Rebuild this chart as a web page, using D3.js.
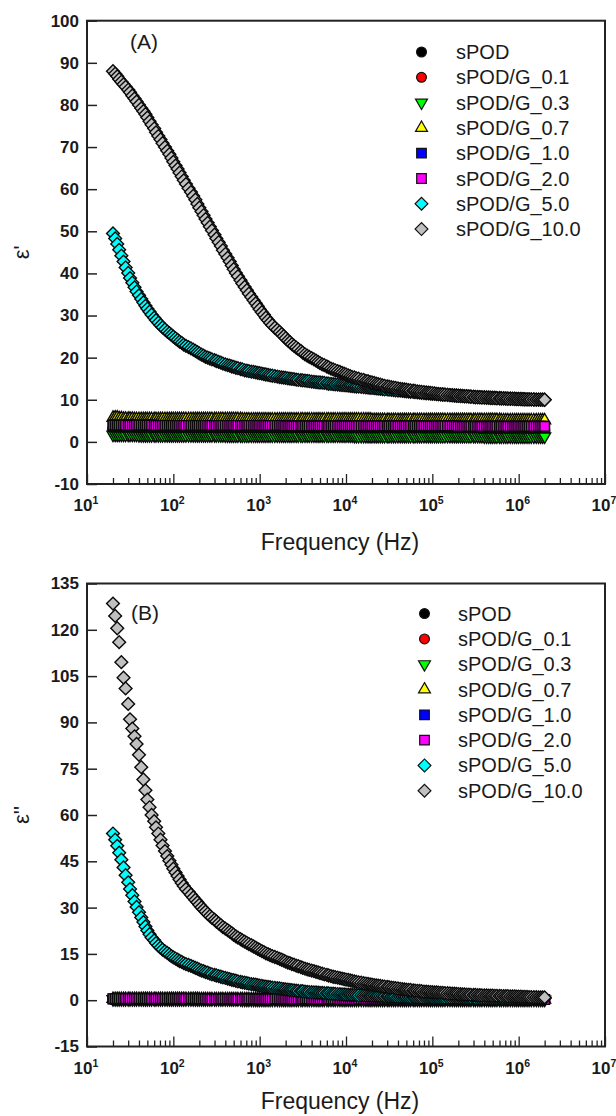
<!DOCTYPE html>
<html><head><meta charset="utf-8">
<script src="https://cdn.jsdelivr.net/npm/d3@7"></script>
<style>
body{margin:0;background:#fff}
svg{display:block}
text{font-family:"Liberation Sans",Arial,sans-serif;fill:#1a1a1a}
</style>
</head><body>
<svg id="chart" width="616" height="1116"></svg>
<script>
// ---------------- DATA ----------------
const frequency = [20,21.2,22.4,23.6,25,26.5,28,30,31.5,33.5, 35.5,37.5,40,42.5,45,47.5,50,53,56,60, 63,67,71,75,80,85,90,95,
100,106,112,118,125,132,140,150,160,170, 180,190,200,212,224,236,250,265,280,300, 315,335,355,375,400,425,450,475,500,530, 560,600,630,670,710,750,800,850,900,950,
1e3,1.06e3,1.12e3,1.18e3,1.25e3,1.32e3,1.4e3,1.5e3,1.6e3,1.7e3, 1.8e3,1.9e3,2e3,2.12e3,2.24e3,2.36e3,2.5e3,2.65e3,2.8e3,3e3, 3.15e3,3.35e3,3.55e3,3.75e3,4e3,4.25e3,4.5e3,4.75e3,5e3,5.3e3, 5.6e3,6e3,6.3e3,6.7e3,7.1e3,7.5e3,8e3,8.5e3,9e3,9.5e3,
1e4,1.06e4,1.12e4,1.18e4,1.25e4,1.32e4,1.4e4,1.5e4,1.6e4,1.7e4, 1.8e4,1.9e4,2e4,2.12e4,2.24e4,2.36e4,2.5e4,2.65e4,2.8e4,3e4, 3.15e4,3.35e4,3.55e4,3.75e4,4e4,4.25e4,4.5e4,4.75e4,5e4,5.3e4, 5.6e4,6e4,6.3e4,6.7e4,7.1e4,7.5e4,8e4,8.5e4,9e4,9.5e4,
1e5,1.06e5,1.12e5,1.18e5,1.25e5,1.32e5,1.4e5,1.5e5,1.6e5,1.7e5, 1.8e5,1.9e5,2e5,2.12e5,2.24e5,2.36e5,2.5e5,2.65e5,2.8e5,3e5, 3.15e5,3.35e5,3.55e5,3.75e5,4e5,4.25e5,4.5e5,4.75e5,5e5,5.3e5, 5.6e5,6e5,6.3e5,6.7e5,7.1e5,7.5e5,8e5,8.5e5,9e5,9.5e5,
1e6,1.06e6,1.12e6,1.18e6,1.25e6,1.32e6,1.4e6,1.5e6,1.6e6,1.7e6, 1.8e6,1.9e6,2e6];

const seriesNames = ["sPOD","sPOD/G_0.1","sPOD/G_0.3","sPOD/G_0.7","sPOD/G_1.0","sPOD/G_2.0","sPOD/G_5.0","sPOD/G_10.0"];

// (A) real permittivity  ε'
const epsP_sPOD = [
2.9,2.9,2.9,2.9,2.9,2.9,2.9,2.9,2.9,2.9, 2.9,2.9,2.9,2.9,2.9,2.9,2.9,2.9,2.9,2.9,
2.8,2.8,2.8,2.8,2.8,2.8,2.8,2.8,2.8,2.8, 2.8,2.8,2.8,2.8,2.8,2.8,2.8,2.8,2.8,2.8,
2.8,2.8,2.8,2.8,2.8,2.8,2.8,2.8,2.8,2.8, 2.8,2.8,2.8,2.8,2.8,2.8,2.8,2.8,2.8,2.8,
2.7,2.7,2.7,2.7,2.7,2.7,2.7,2.7,2.7,2.7, 2.7,2.7,2.7,2.7,2.7,2.7,2.7,2.7,2.7,2.7,
2.7,2.7,2.7,2.7,2.7,2.7,2.7,2.7,2.7,2.7, 2.7,2.7,2.7,2.7,2.7,2.7,2.7,2.7,2.7,2.7,
2.7,2.7,2.7,2.7,2.7,2.7,2.7,2.7,2.7,2.7, 2.7,2.7,2.7,2.7,2.7,2.7,2.7,2.7,2.7,2.7,
2.6,2.6,2.6,2.6,2.6,2.6,2.6,2.6,2.6,2.6, 2.6,2.6,2.6,2.6,2.6,2.6,2.6,2.6,2.6,2.6,
2.6,2.6,2.6,2.6,2.6,2.6,2.6,2.6,2.6,2.6, 2.6,2.6,2.6,2.6,2.6,2.6,2.6,2.6,2.6,2.6,
2.6,2.6,2.6,2.6,2.6,2.6,2.6,2.6,2.6,2.6, 2.6,2.6,2.6,2.6,2.6,2.6,2.6,2.6,2.6,2.6,
2.5,2.5,2.5,2.5,2.5,2.5,2.5,2.5,2.5,2.5, 2.5,2.5,2.5,2.5,2.5,2.5,2.5,2.5,2.5,2.5,
2.5];
const epsP_G01 = [
3.2,3.2,3.2,3.2,3.2,3.2,3.2,3.2,3.2,3.2, 3.2,3.2,3.2,3.2,3.2,3.2,3.2,3.2,3.2,3.2,
3.1,3.1,3.1,3.1,3.1,3.1,3.1,3.1,3.1,3.1, 3.1,3.1,3.1,3.1,3.1,3.1,3.1,3.1,3.1,3.1,
3.1,3.1,3.1,3.1,3.1,3.1,3.1,3.1,3.1,3.1, 3.1,3.1,3.1,3.1,3.1,3.1,3.1,3.1,3.1,3.1,
3.1,3.1,3.1,3.1,3.1,3.1,3.1,3.1,3.1,3.1, 3.1,3.1,3.1,3.1,3.1,3.1,3.1,3.1,3.1,3.1,
3.0,3.0,3.0,3.0,3.0,3.0,3.0,3.0,3.0,3.0, 3.0,3.0,3.0,3.0,3.0,3.0,3.0,3.0,3.0,3.0,
3.0,3.0,3.0,3.0,3.0,3.0,3.0,3.0,3.0,3.0, 3.0,3.0,3.0,3.0,3.0,3.0,3.0,3.0,3.0,3.0,
3.0,3.0,3.0,3.0,3.0,3.0,3.0,3.0,3.0,3.0, 3.0,3.0,3.0,3.0,3.0,3.0,3.0,3.0,3.0,3.0,
2.9,2.9,2.9,2.9,2.9,2.9,2.9,2.9,2.9,2.9, 2.9,2.9,2.9,2.9,2.9,2.9,2.9,2.9,2.9,2.9,
2.9,2.9,2.9,2.9,2.9,2.9,2.9,2.9,2.9,2.9, 2.9,2.9,2.9,2.9,2.9,2.9,2.9,2.9,2.9,2.9,
2.8,2.8,2.8,2.8,2.8,2.8,2.8,2.8,2.8,2.8, 2.8,2.8,2.8,2.8,2.8,2.8,2.8,2.8,2.8,2.8,
2.8];
const epsP_G03 = [
1.7,1.7,1.7,1.7,1.7,1.7,1.7,1.7,1.7,1.7, 1.7,1.7,1.6,1.6,1.6,1.6,1.6,1.6,1.6,1.6,
1.6,1.6,1.6,1.6,1.6,1.6,1.6,1.6,1.6,1.6, 1.6,1.6,1.6,1.6,1.6,1.6,1.6,1.6,1.6,1.6,
1.6,1.6,1.6,1.6,1.6,1.6,1.6,1.6,1.6,1.6, 1.6,1.6,1.5,1.5,1.5,1.5,1.5,1.5,1.5,1.5,
1.5,1.5,1.5,1.5,1.5,1.5,1.5,1.5,1.5,1.5, 1.5,1.5,1.5,1.5,1.5,1.5,1.5,1.5,1.5,1.5,
1.5,1.5,1.5,1.5,1.5,1.5,1.5,1.5,1.5,1.5, 1.5,1.5,1.5,1.5,1.5,1.5,1.5,1.5,1.5,1.5,
1.5,1.5,1.5,1.5,1.5,1.5,1.5,1.5,1.5,1.5, 1.5,1.5,1.4,1.4,1.4,1.4,1.4,1.4,1.4,1.4,
1.4,1.4,1.4,1.4,1.4,1.4,1.4,1.4,1.4,1.4, 1.4,1.4,1.4,1.4,1.4,1.4,1.4,1.4,1.4,1.4,
1.4,1.4,1.4,1.4,1.4,1.4,1.4,1.4,1.4,1.4, 1.4,1.4,1.4,1.4,1.4,1.4,1.4,1.4,1.4,1.4,
1.4,1.4,1.4,1.4,1.4,1.4,1.4,1.4,1.4,1.4, 1.4,1.4,1.3,1.3,1.3,1.3,1.3,1.3,1.3,1.3,
1.3,1.3,1.3,1.3,1.3,1.3,1.3,1.3,1.3,1.3, 1.3,1.3,1.3,1.3,1.3,1.3,1.3,1.3,1.3,1.3,
1.3];
const epsP_G07 = [
5.7,5.8,5.8,5.6,5.6,5.5,5.5,5.5,5.5,5.5, 5.4,5.4,5.4,5.4,5.4,5.4,5.4,5.4,5.4,5.4,
5.4,5.4,5.4,5.4,5.4,5.4,5.4,5.4,5.4,5.4, 5.4,5.4,5.4,5.4,5.4,5.4,5.4,5.4,5.4,5.4,
5.4,5.4,5.4,5.4,5.4,5.4,5.4,5.4,5.4,5.4, 5.4,5.4,5.4,5.4,5.4,5.4,5.4,5.4,5.4,5.4,
5.3,5.3,5.3,5.3,5.3,5.3,5.3,5.3,5.3,5.3, 5.3,5.3,5.3,5.3,5.3,5.3,5.3,5.3,5.3,5.3,
5.3,5.3,5.3,5.3,5.3,5.3,5.3,5.3,5.3,5.3, 5.3,5.3,5.3,5.3,5.3,5.3,5.3,5.3,5.3,5.3,
5.3,5.3,5.3,5.3,5.3,5.3,5.3,5.3,5.3,5.3, 5.3,5.3,5.3,5.3,5.3,5.3,5.3,5.3,5.3,5.3,
5.2,5.2,5.2,5.2,5.2,5.2,5.2,5.2,5.2,5.2, 5.2,5.2,5.2,5.2,5.2,5.2,5.2,5.2,5.2,5.2,
5.2,5.2,5.2,5.2,5.2,5.2,5.2,5.2,5.2,5.2, 5.2,5.2,5.2,5.2,5.2,5.2,5.2,5.2,5.2,5.2,
5.2,5.2,5.2,5.2,5.2,5.2,5.2,5.2,5.2,5.2, 5.2,5.2,5.2,5.2,5.2,5.2,5.2,5.2,5.2,5.2,
5.1,5.1,5.1,5.1,5.1,5.1,5.1,5.1,5.1,5.1, 5.1,5.1,5.1,5.1,5.1,5.1,5.1,5.1,5.1,5.1,
5.1];
const epsP_G10 = [
3.6,3.6,3.6,3.6,3.6,3.6,3.6,3.6,3.6,3.6, 3.6,3.6,3.6,3.6,3.6,3.6,3.6,3.6,3.6,3.6,
3.6,3.6,3.6,3.6,3.6,3.6,3.6,3.6,3.6,3.6, 3.6,3.6,3.6,3.6,3.6,3.6,3.6,3.6,3.6,3.6,
3.5,3.5,3.5,3.5,3.5,3.5,3.5,3.5,3.5,3.5, 3.5,3.5,3.5,3.5,3.5,3.5,3.5,3.5,3.5,3.5,
3.5,3.5,3.5,3.5,3.5,3.5,3.5,3.5,3.5,3.5, 3.5,3.5,3.5,3.5,3.5,3.5,3.5,3.5,3.5,3.5,
3.5,3.5,3.5,3.5,3.5,3.5,3.5,3.5,3.5,3.5, 3.5,3.5,3.5,3.5,3.5,3.5,3.5,3.5,3.5,3.5,
3.5,3.5,3.5,3.5,3.5,3.5,3.5,3.5,3.5,3.5, 3.5,3.5,3.5,3.5,3.5,3.5,3.5,3.5,3.5,3.5,
3.4,3.4,3.4,3.4,3.4,3.4,3.4,3.4,3.4,3.4, 3.4,3.4,3.4,3.4,3.4,3.4,3.4,3.4,3.4,3.4,
3.4,3.4,3.4,3.4,3.4,3.4,3.4,3.4,3.4,3.4, 3.4,3.4,3.4,3.4,3.4,3.4,3.4,3.4,3.4,3.4,
3.4,3.4,3.4,3.4,3.4,3.4,3.4,3.4,3.4,3.4, 3.4,3.4,3.4,3.4,3.4,3.4,3.4,3.4,3.4,3.4,
3.4,3.4,3.4,3.4,3.4,3.4,3.4,3.4,3.4,3.4, 3.4,3.4,3.4,3.4,3.4,3.4,3.4,3.4,3.4,3.4,
3.4];
const epsP_G20 = [
4.0,4.0,4.0,4.0,4.0,4.0,4.0,4.0,4.0,4.0, 4.0,4.0,4.0,4.0,4.0,4.0,4.0,4.0,4.0,4.0,
3.9,3.9,3.9,3.9,3.9,3.9,3.9,3.9,3.9,3.9, 3.9,3.9,3.9,3.9,3.9,3.9,3.9,3.9,3.9,3.9,
3.9,3.9,3.9,3.9,3.9,3.9,3.9,3.9,3.9,3.9, 3.9,3.9,3.9,3.9,3.9,3.9,3.9,3.9,3.9,3.9,
3.9,3.9,3.9,3.9,3.9,3.9,3.9,3.9,3.9,3.9, 3.9,3.9,3.9,3.9,3.9,3.9,3.9,3.9,3.9,3.9,
3.8,3.8,3.8,3.8,3.8,3.8,3.8,3.8,3.8,3.8, 3.8,3.8,3.8,3.8,3.8,3.8,3.8,3.8,3.8,3.8,
3.8,3.8,3.8,3.8,3.8,3.8,3.8,3.8,3.8,3.8, 3.8,3.8,3.8,3.8,3.8,3.8,3.8,3.8,3.8,3.8,
3.8,3.8,3.8,3.8,3.8,3.8,3.8,3.8,3.8,3.8, 3.8,3.8,3.8,3.8,3.8,3.8,3.8,3.8,3.8,3.8,
3.8,3.8,3.8,3.8,3.8,3.8,3.8,3.8,3.8,3.8, 3.8,3.8,3.8,3.8,3.8,3.8,3.8,3.8,3.8,3.8,
3.7,3.7,3.7,3.7,3.7,3.7,3.7,3.7,3.7,3.7, 3.7,3.7,3.7,3.7,3.7,3.7,3.7,3.7,3.7,3.7,
3.7,3.7,3.7,3.7,3.7,3.7,3.7,3.7,3.7,3.7, 3.7,3.7,3.7,3.7,3.7,3.7,3.7,3.7,3.7,3.7,
3.7];
const epsP_G50 = [
49.5,48.3,47.0,45.6,44.2,42.8,41.4,40.1,38.9,37.8, 36.7,35.7,34.8,33.9,33.1,32.3,31.6,30.9,30.2,29.5,
28.9,28.3,27.7,27.2,26.7,26.2,25.8,25.4,25.0,24.6, 24.2,23.8,23.5,23.1,22.8,22.5,22.2,21.9,21.6,21.3,
21.0,20.7,20.5,20.2,20.0,19.8,19.6,19.4,19.2,19.0, 18.8,18.6,18.4,18.2,18.1,17.9,17.8,17.6,17.5,17.3,
17.2,17.0,16.9,16.8,16.7,16.6,16.5,16.4,16.3,16.2, 16.1,16.0,15.9,15.8,15.7,15.6,15.5,15.4,15.3,15.25,
15.2,15.1,15.0,14.95,14.9,14.8,14.7,14.65,14.6,14.55, 14.5,14.4,14.3,14.25,14.2,14.15,14.1,14.05,14.0,13.9,
13.8,13.75,13.7,13.65,13.6,13.55,13.5,13.45,13.4,13.35, 13.3,13.25,13.2,13.15,13.1,13.05,13.0,12.95,12.9,12.85,
12.8,12.75,12.7,12.65,12.6,12.55,12.5,12.45,12.4,12.35, 12.3,12.25,12.2,12.15,12.1,12.05,12.0,11.95,11.9,11.85,
11.8,11.75,11.7,11.65,11.6,11.55,11.5,11.45,11.4,11.38, 11.35,11.32,11.3,11.25,11.2,11.15,11.1,11.08,11.05,11.02,
11.0,10.95,10.9,10.88,10.85,10.82,10.8,10.75,10.7,10.68, 10.65,10.62,10.6,10.58,10.55,10.52,10.5,10.48,10.45,10.42,
10.4,10.38,10.35,10.32,10.3,10.28,10.25,10.22,10.2,10.18, 10.15,10.12,10.1,10.09,10.08,10.06,10.05,10.04,10.02,10.01,
10.0];
const epsP_G100 = [
88.0,87.4,86.8,86.1,85.5,84.9,84.3,83.6,83.0,82.2, 81.5,80.8,80.0,79.2,78.5,77.8,77.0,76.1,75.3,74.4,
73.5,72.6,71.8,70.9,70.0,69.1,68.3,67.4,66.5,65.6, 64.8,63.9,63.0,62.1,61.2,60.2,59.3,58.4,57.5,56.5,
55.6,54.7,53.8,52.9,52.0,51.1,50.2,49.2,48.3,47.4, 46.5,45.5,44.6,43.7,42.8,41.9,41.0,40.1,39.3,38.4,
37.6,36.8,36.0,35.2,34.4,33.6,32.9,32.2,31.5,30.8, 30.2,29.5,28.9,28.3,27.7,27.1,26.6,26.1,25.6,25.1,
24.6,24.1,23.7,23.2,22.8,22.4,22.0,21.6,21.2,20.8, 20.5,20.2,19.9,19.6,19.3,19.0,18.7,18.4,18.2,17.9,
17.7,17.4,17.2,17.0,16.8,16.6,16.4,16.2,16.0,15.8, 15.6,15.4,15.3,15.1,15.0,14.8,14.7,14.5,14.4,14.2,
14.1,14.0,13.8,13.7,13.6,13.4,13.3,13.2,13.1,13.0, 12.9,12.8,12.7,12.6,12.5,12.45,12.4,12.3,12.2,12.15,
12.1,12.0,11.9,11.85,11.8,11.75,11.7,11.65,11.6,11.5, 11.4,11.35,11.3,11.25,11.2,11.15,11.1,11.05,11.0,10.95,
10.9,10.88,10.85,10.82,10.8,10.75,10.7,10.65,10.6,10.58, 10.55,10.52,10.5,10.48,10.45,10.42,10.4,10.38,10.35,10.32,
10.3,10.28,10.25,10.22,10.2,10.19,10.18,10.16,10.15,10.14, 10.12,10.11,10.1,10.09,10.08,10.06,10.05,10.04,10.02,10.01,
10.0];

// (B) imaginary permittivity  ε''
const epsPP_sPOD = [
0.3,0.3,0.3,0.3,0.3,0.3,0.3,0.3,0.3,0.3, 0.3,0.3,0.3,0.3,0.3,0.3,0.3,0.3,0.3,0.3,
0.3,0.3,0.3,0.3,0.3,0.3,0.3,0.3,0.3,0.3, 0.3,0.3,0.3,0.3,0.3,0.3,0.3,0.3,0.3,0.3,
0.2,0.2,0.2,0.2,0.2,0.2,0.2,0.2,0.2,0.2, 0.2,0.2,0.2,0.2,0.2,0.2,0.2,0.2,0.2,0.2,
0.2,0.2,0.2,0.2,0.2,0.2,0.2,0.2,0.2,0.2, 0.2,0.2,0.2,0.2,0.2,0.2,0.2,0.2,0.2,0.2,
0.2,0.2,0.2,0.2,0.2,0.2,0.2,0.2,0.2,0.2, 0.2,0.2,0.2,0.2,0.2,0.2,0.2,0.2,0.2,0.2,
0.2,0.2,0.2,0.2,0.2,0.2,0.2,0.2,0.2,0.2, 0.2,0.2,0.2,0.2,0.2,0.2,0.2,0.2,0.2,0.2,
0.1,0.1,0.1,0.1,0.1,0.1,0.1,0.1,0.1,0.1, 0.1,0.1,0.1,0.1,0.1,0.1,0.1,0.1,0.1,0.1,
0.1,0.1,0.1,0.1,0.1,0.1,0.1,0.1,0.1,0.1, 0.1,0.1,0.1,0.1,0.1,0.1,0.1,0.1,0.1,0.1,
0.1,0.1,0.1,0.1,0.1,0.1,0.1,0.1,0.1,0.1, 0.1,0.1,0.1,0.1,0.1,0.1,0.1,0.1,0.1,0.1,
0.1,0.1,0.1,0.1,0.1,0.1,0.1,0.1,0.1,0.1, 0.1,0.1,0.1,0.1,0.1,0.1,0.1,0.1,0.1,0.1,
0.1];
const epsPP_G01 = [
0.3,0.3,0.3,0.3,0.3,0.3,0.3,0.3,0.3,0.3, 0.3,0.3,0.3,0.3,0.3,0.3,0.3,0.3,0.3,0.3,
0.3,0.3,0.3,0.3,0.3,0.3,0.3,0.3,0.3,0.3, 0.3,0.3,0.3,0.3,0.3,0.3,0.3,0.3,0.3,0.3,
0.3,0.3,0.3,0.3,0.3,0.3,0.3,0.3,0.3,0.3, 0.3,0.3,0.3,0.3,0.3,0.3,0.3,0.3,0.3,0.3,
0.2,0.2,0.2,0.2,0.2,0.2,0.2,0.2,0.2,0.2, 0.2,0.2,0.2,0.2,0.2,0.2,0.2,0.2,0.2,0.2,
0.2,0.2,0.2,0.2,0.2,0.2,0.2,0.2,0.2,0.2, 0.2,0.2,0.2,0.2,0.2,0.2,0.2,0.2,0.2,0.2,
0.2,0.2,0.2,0.2,0.2,0.2,0.2,0.2,0.2,0.2, 0.2,0.2,0.2,0.2,0.2,0.2,0.2,0.2,0.2,0.2,
0.2,0.2,0.2,0.2,0.2,0.2,0.2,0.2,0.2,0.2, 0.2,0.2,0.2,0.2,0.2,0.2,0.2,0.2,0.2,0.2,
0.15,0.15,0.15,0.15,0.15,0.15,0.15,0.15,0.15,0.15, 0.15,0.15,0.15,0.15,0.15,0.15,0.15,0.15,0.15,0.15,
0.15,0.15,0.15,0.15,0.15,0.15,0.15,0.15,0.15,0.15, 0.15,0.15,0.15,0.15,0.15,0.15,0.15,0.15,0.15,0.15,
0.15,0.15,0.15,0.15,0.15,0.15,0.15,0.15,0.15,0.15, 0.15,0.15,0.15,0.15,0.15,0.15,0.15,0.15,0.15,0.15,
0.15];
const epsPP_G03 = [
0.3,0.3,0.3,0.3,0.3,0.3,0.3,0.3,0.3,0.3, 0.3,0.3,0.3,0.3,0.3,0.3,0.3,0.3,0.3,0.3,
0.3,0.3,0.3,0.3,0.3,0.3,0.3,0.3,0.3,0.3, 0.3,0.3,0.3,0.3,0.3,0.3,0.3,0.3,0.3,0.3,
0.3,0.3,0.3,0.3,0.3,0.3,0.3,0.3,0.3,0.3, 0.3,0.3,0.3,0.3,0.3,0.3,0.3,0.3,0.3,0.3,
0.2,0.2,0.2,0.2,0.2,0.2,0.2,0.2,0.2,0.2, 0.2,0.2,0.2,0.2,0.2,0.2,0.2,0.2,0.2,0.2,
0.2,0.2,0.2,0.2,0.2,0.2,0.2,0.2,0.2,0.2, 0.2,0.2,0.2,0.2,0.2,0.2,0.2,0.2,0.2,0.2,
0.2,0.2,0.2,0.2,0.2,0.2,0.2,0.2,0.2,0.2, 0.2,0.2,0.2,0.2,0.2,0.2,0.2,0.2,0.2,0.2,
0.2,0.2,0.2,0.2,0.2,0.2,0.2,0.2,0.2,0.2, 0.2,0.2,0.2,0.2,0.2,0.2,0.2,0.2,0.2,0.2,
0.2,0.2,0.2,0.2,0.2,0.2,0.2,0.2,0.2,0.2, 0.2,0.2,0.2,0.2,0.2,0.2,0.2,0.2,0.2,0.2,
0.2,0.2,0.2,0.2,0.2,0.2,0.2,0.2,0.2,0.2, 0.2,0.2,0.2,0.2,0.2,0.2,0.2,0.2,0.2,0.2,
0.2,0.2,0.2,0.2,0.2,0.2,0.2,0.2,0.2,0.2, 0.2,0.2,0.2,0.2,0.2,0.2,0.2,0.2,0.2,0.2,
0.2];
const epsPP_G07 = [
0.4,0.4,0.4,0.4,0.4,0.4,0.4,0.4,0.4,0.4, 0.4,0.4,0.4,0.4,0.4,0.4,0.4,0.4,0.4,0.4,
0.4,0.4,0.4,0.4,0.4,0.4,0.4,0.4,0.4,0.4, 0.4,0.4,0.4,0.4,0.4,0.4,0.4,0.4,0.4,0.4,
0.3,0.3,0.3,0.3,0.3,0.3,0.3,0.3,0.3,0.3, 0.3,0.3,0.3,0.3,0.3,0.3,0.3,0.3,0.3,0.3,
0.3,0.3,0.3,0.3,0.3,0.3,0.3,0.3,0.3,0.3, 0.3,0.3,0.3,0.3,0.3,0.3,0.3,0.3,0.3,0.3,
0.3,0.3,0.3,0.3,0.3,0.3,0.3,0.3,0.3,0.3, 0.3,0.3,0.3,0.3,0.3,0.3,0.3,0.3,0.3,0.3,
0.3,0.3,0.3,0.3,0.3,0.3,0.3,0.3,0.3,0.3, 0.3,0.3,0.3,0.3,0.3,0.3,0.3,0.3,0.3,0.3,
0.2,0.2,0.2,0.2,0.2,0.2,0.2,0.2,0.2,0.2, 0.2,0.2,0.2,0.2,0.2,0.2,0.2,0.2,0.2,0.2,
0.2,0.2,0.2,0.2,0.2,0.2,0.2,0.2,0.2,0.2, 0.2,0.2,0.2,0.2,0.2,0.2,0.2,0.2,0.2,0.2,
0.2,0.2,0.2,0.2,0.2,0.2,0.2,0.2,0.2,0.2, 0.2,0.2,0.2,0.2,0.2,0.2,0.2,0.2,0.2,0.2,
0.2,0.2,0.2,0.2,0.2,0.2,0.2,0.2,0.2,0.2, 0.2,0.2,0.2,0.2,0.2,0.2,0.2,0.2,0.2,0.2,
0.2];
const epsPP_G10 = [
0.4,0.4,0.4,0.4,0.4,0.4,0.4,0.4,0.4,0.4, 0.4,0.4,0.4,0.4,0.4,0.4,0.4,0.4,0.4,0.4,
0.4,0.4,0.4,0.4,0.4,0.4,0.4,0.4,0.4,0.4, 0.4,0.4,0.4,0.4,0.4,0.4,0.4,0.4,0.4,0.4,
0.4,0.4,0.4,0.4,0.4,0.4,0.4,0.4,0.4,0.4, 0.4,0.4,0.4,0.4,0.4,0.4,0.4,0.4,0.4,0.4,
0.3,0.3,0.3,0.3,0.3,0.3,0.3,0.3,0.3,0.3, 0.3,0.3,0.3,0.3,0.3,0.3,0.3,0.3,0.3,0.3,
0.3,0.3,0.3,0.3,0.3,0.3,0.3,0.3,0.3,0.3, 0.3,0.3,0.3,0.3,0.3,0.3,0.3,0.3,0.3,0.3,
0.3,0.3,0.3,0.3,0.3,0.3,0.3,0.3,0.3,0.3, 0.3,0.3,0.3,0.3,0.3,0.3,0.3,0.3,0.3,0.3,
0.3,0.3,0.3,0.3,0.3,0.3,0.3,0.3,0.3,0.3, 0.3,0.3,0.3,0.3,0.3,0.3,0.3,0.3,0.3,0.3,
0.2,0.2,0.2,0.2,0.2,0.2,0.2,0.2,0.2,0.2, 0.2,0.2,0.2,0.2,0.2,0.2,0.2,0.2,0.2,0.2,
0.2,0.2,0.2,0.2,0.2,0.2,0.2,0.2,0.2,0.2, 0.2,0.2,0.2,0.2,0.2,0.2,0.2,0.2,0.2,0.2,
0.2,0.2,0.2,0.2,0.2,0.2,0.2,0.2,0.2,0.2, 0.2,0.2,0.2,0.2,0.2,0.2,0.2,0.2,0.2,0.2,
0.2];
const epsPP_G20 = [
0.5,0.5,0.5,0.5,0.5,0.5,0.5,0.5,0.5,0.5, 0.5,0.5,0.5,0.5,0.5,0.5,0.5,0.5,0.5,0.5,
0.5,0.5,0.5,0.5,0.5,0.5,0.5,0.5,0.5,0.5, 0.5,0.5,0.5,0.5,0.5,0.5,0.5,0.5,0.5,0.5,
0.4,0.4,0.4,0.4,0.4,0.4,0.4,0.4,0.4,0.4, 0.4,0.4,0.4,0.4,0.4,0.4,0.4,0.4,0.4,0.4,
0.4,0.4,0.4,0.4,0.4,0.4,0.4,0.4,0.4,0.4, 0.4,0.4,0.4,0.4,0.4,0.4,0.4,0.4,0.4,0.4,
0.4,0.4,0.4,0.4,0.4,0.4,0.4,0.4,0.4,0.4, 0.4,0.4,0.4,0.4,0.4,0.4,0.4,0.4,0.4,0.4,
0.3,0.3,0.3,0.3,0.3,0.3,0.3,0.3,0.3,0.3, 0.3,0.3,0.3,0.3,0.3,0.3,0.3,0.3,0.3,0.3,
0.3,0.3,0.3,0.3,0.3,0.3,0.3,0.3,0.3,0.3, 0.3,0.3,0.3,0.3,0.3,0.3,0.3,0.3,0.3,0.3,
0.3,0.3,0.3,0.3,0.3,0.3,0.3,0.3,0.3,0.3, 0.3,0.3,0.3,0.3,0.3,0.3,0.3,0.3,0.3,0.3,
0.2,0.2,0.2,0.2,0.2,0.2,0.2,0.2,0.2,0.2, 0.2,0.2,0.2,0.2,0.2,0.2,0.2,0.2,0.2,0.2,
0.2,0.2,0.2,0.2,0.2,0.2,0.2,0.2,0.2,0.2, 0.2,0.2,0.2,0.2,0.2,0.2,0.2,0.2,0.2,0.2,
0.2];
const epsPP_G50 = [
54.0,52.0,50.0,47.8,45.5,43.0,40.5,38.2,36.0,34.0, 32.0,30.2,28.5,26.8,25.3,23.9,22.6,21.4,20.3,19.4,
18.5,17.7,17.0,16.4,15.8,15.3,14.8,14.3,13.9,13.5, 13.1,12.7,12.4,12.0,11.7,11.4,11.1,10.8,10.5,10.2,
9.9,9.6,9.4,9.1,8.9,8.6,8.4,8.2,8.0,7.8, 7.6,7.4,7.2,7.0,6.8,6.6,6.5,6.3,6.1,5.95,
5.8,5.65,5.5,5.35,5.2,5.1,5.0,4.85,4.7,4.6, 4.5,4.4,4.3,4.2,4.1,4.0,3.9,3.8,3.7,3.6,
3.5,3.4,3.3,3.25,3.2,3.1,3.0,2.95,2.9,2.8, 2.7,2.65,2.6,2.55,2.5,2.45,2.4,2.35,2.3,2.25,
2.2,2.15,2.1,2.05,2.0,1.95,1.9,1.85,1.8,1.78, 1.75,1.72,1.7,1.65,1.6,1.58,1.55,1.52,1.5,1.48,
1.45,1.42,1.4,1.38,1.35,1.32,1.3,1.28,1.25,1.22, 1.2,1.18,1.15,1.12,1.1,1.08,1.05,1.02,1.0,0.99,
0.98,0.96,0.95,0.94,0.92,0.91,0.9,0.89,0.88,0.87, 0.86,0.85,0.84,0.83,0.82,0.81,0.8,0.79,0.78,0.77,
0.76,0.76,0.75,0.75,0.74,0.74,0.73,0.73,0.72,0.72, 0.71,0.71,0.7,0.7,0.69,0.69,0.68,0.68,0.67,0.67,
0.66,0.66,0.65,0.65,0.64,0.64,0.63,0.63,0.62,0.62, 0.61,0.61,0.6,0.6,0.6,0.6,0.6,0.6,0.6,0.6,
0.6];
const epsPP_G100 = [
128.5,124.5,120.5,116.0,109.5,104.5,101.0,96.0,91.0,88.0, 85.5,83.0,79.5,75.5,71.5,68.0,65.0,62.5,60.0,58.0,
56.0,54.0,52.0,50.1,48.3,46.7,45.2,43.9,42.6,41.4, 40.2,39.1,38.0,37.0,36.0,35.1,34.2,33.3,32.5,31.7,
30.9,30.1,29.4,28.7,28.0,27.3,26.7,26.1,25.5,24.9, 24.3,23.7,23.2,22.7,22.2,21.7,21.2,20.7,20.3,19.8,
19.4,19.0,18.6,18.2,17.8,17.4,17.0,16.6,16.3,15.9, 15.6,15.2,14.9,14.6,14.3,14.0,13.7,13.4,13.1,12.8,
12.5,12.2,12.0,11.7,11.5,11.2,11.0,10.7,10.5,10.2, 10.0,9.8,9.6,9.4,9.2,9.0,8.8,8.6,8.4,8.2,
8.0,7.8,7.6,7.45,7.3,7.15,7.0,6.85,6.7,6.55, 6.4,6.25,6.1,5.95,5.8,5.65,5.5,5.4,5.3,5.15,
5.0,4.9,4.8,4.7,4.6,4.5,4.4,4.3,4.2,4.1, 4.0,3.9,3.8,3.7,3.6,3.5,3.4,3.35,3.3,3.2,
3.1,3.05,3.0,2.9,2.8,2.75,2.7,2.65,2.6,2.55, 2.5,2.45,2.4,2.35,2.3,2.25,2.2,2.15,2.1,2.05,
2.0,1.95,1.9,1.85,1.8,1.78,1.75,1.72,1.7,1.65, 1.6,1.58,1.55,1.52,1.5,1.48,1.45,1.42,1.4,1.38,
1.35,1.32,1.3,1.28,1.25,1.22,1.2,1.18,1.15,1.12, 1.1,1.08,1.05,1.02,1.0,0.98,0.95,0.92,0.9,0.9,
0.9];

const yTicksA = [-10,0,10,20,30,40,50,60,70,80,90,100];
const yTicksB = [-15,0,15,30,45,60,75,90,105,120,135];
const xDecades = [1e1,1e2,1e3,1e4,1e5,1e6,1e7];
const xDecadeExponents = ["1","2","3","4","5","6","7"];
const minorMultipliers = [2,3,4,5,6,7,8,9];

// ---------------- STYLE / LAYOUT ----------------
const seriesFill = ["#000000","#ff0000","#00ff00","#ffff00","#0000ff","#ff00ff","#00ffff","#c0c0c0"];
const seriesShape = ["circle","circle","triDown","triUp","square","square","diamond","diamond"];

const svg = d3.select("#chart");
const X0 = 87, X1 = 605;
const x = d3.scaleLog().domain([1e1,1e7]).range([X0,X1]);

const shapeGen = {
  circle: {path: d3.symbol().type(d3.symbolCircle).size(76)(), rot: 0},
  triDown: {path: d3.symbol().type(d3.symbolTriangle).size(62)(), rot: 180},
  triUp: {path: d3.symbol().type(d3.symbolTriangle).size(62)(), rot: 0},
  square: {path: d3.symbol().type(d3.symbolSquare).size(92)(), rot: 0},
  diamond: {path: d3.symbol().type(d3.symbolSquare).size(82)(), rot: 45}
};

const panels = [
  {top:20.7, bottom:484, domain:[-10,100], ticks:yTicksA,
   values:[epsP_sPOD,epsP_G01,epsP_G03,epsP_G07,epsP_G10,epsP_G20,epsP_G50,epsP_G100],
   yTitle:"ε'", tag:"(A)", tagX:144, tagY:49, legX:421.5, legTX:456, legY:52, titleDy:66},
  {top:583.5, bottom:1046.5, domain:[-15,135], ticks:yTicksB,
   values:[epsPP_sPOD,epsPP_G01,epsPP_G03,epsPP_G07,epsPP_G10,epsPP_G20,epsPP_G50,epsPP_G100],
   yTitle:"ε''", tag:"(B)", tagX:145, tagY:620, legX:424.5, legTX:458, legY:613.6, titleDy:62}
];

panels.forEach(p => {
  const y = d3.scaleLinear().domain(p.domain).range([p.bottom, p.top]);
  const g = svg.append("g");

  // data markers
  p.values.forEach((vals, si) => {
    const sh = shapeGen[seriesShape[si]];
    g.append("g").selectAll("path")
      .data(frequency.map((f,i) => ({f, v: vals[i]})).filter(d => d.v != null))
      .join("path")
      .attr("d", sh.path)
      .attr("transform", d => `translate(${x(d.f)},${y(d.v)}) rotate(${sh.rot})`)
      .attr("fill", seriesFill[si])
      .attr("stroke", "#0a0a0a")
      .attr("stroke-width", 1.4);
  });

  // y axis
  const ya = g.append("g").attr("transform", `translate(${X0},0)`)
    .call(d3.axisLeft(y).tickValues(p.ticks).tickSize(-10).tickPadding(8).tickFormat(d => String(d)));
  ya.select(".domain").remove();
  ya.selectAll(".tick line").attr("stroke","#222").attr("stroke-width",1.5);
  ya.selectAll(".tick text").attr("font-size",17).attr("font-weight","bold")
    .attr("font-family","'Liberation Sans',Arial,sans-serif").attr("fill","#1a1a1a");

  // x axis: majors & minors (inside)
  const minors = [];
  xDecades.slice(0,-1).forEach(d => minorMultipliers.forEach(m => minors.push(d*m)));
  const xaMin = g.append("g").attr("transform", `translate(0,${p.bottom})`)
    .call(d3.axisBottom(x).tickValues(minors).tickSize(-6).tickFormat(""));
  const xaMaj = g.append("g").attr("transform", `translate(0,${p.bottom})`)
    .call(d3.axisBottom(x).tickValues(xDecades).tickSize(-10).tickFormat(""));
  [xaMin,xaMaj].forEach(a => {
    a.select(".domain").remove();
    a.selectAll(".tick line").attr("stroke","#222").attr("stroke-width",1.3);
  });

  // x tick labels with superscripts
  xDecades.forEach((d,i) => {
    const t = g.append("text").attr("x", x(d) - 1).attr("y", p.bottom + 27)
      .attr("text-anchor","middle").attr("font-size",17).attr("font-weight","bold");
    t.append("tspan").text("10");
    t.append("tspan").attr("font-size",10.5).attr("dy",-7).text(xDecadeExponents[i]);
  });

  // frame
  g.append("rect").attr("x",X0).attr("y",p.top).attr("width",X1-X0).attr("height",p.bottom-p.top)
    .attr("fill","none").attr("stroke","#222").attr("stroke-width",2);

  // axis titles
  g.append("text").attr("x",340).attr("y",p.bottom+p.titleDy).attr("text-anchor","middle")
    .attr("font-size",23).text("Frequency (Hz)");
  g.append("text").attr("transform",`translate(21,${(p.top+p.bottom)/2}) rotate(-90)`)
    .attr("text-anchor","middle").attr("dominant-baseline","central")
    .attr("font-size",22).text(p.yTitle);

  // panel tag
  g.append("text").attr("x",p.tagX).attr("y",p.tagY).attr("text-anchor","middle")
    .attr("font-size",21).text(p.tag);

  // legend
  seriesNames.forEach((name, si) => {
    const yy = p.legY + si*25.3;
    const sh = shapeGen[seriesShape[si]];
    g.append("path").attr("d", sh.path)
      .attr("transform",`translate(${p.legX},${yy}) rotate(${sh.rot})`)
      .attr("fill", seriesFill[si]).attr("stroke","#111").attr("stroke-width",1.2);
    g.append("text").attr("x",p.legTX).attr("y",yy+7).attr("font-size",20).text(name);
  });
});
</script>
</body></html>
